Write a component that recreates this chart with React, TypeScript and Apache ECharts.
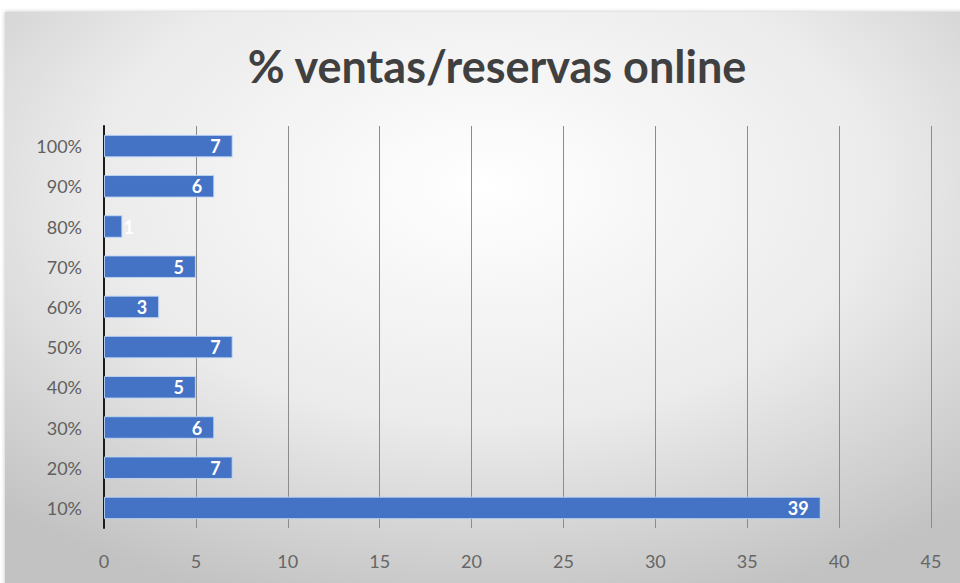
import React, { useEffect, useRef } from "react";
import * as echarts from "echarts";

const categories = ["10%", "20%", "30%", "40%", "50%", "60%", "70%", "80%", "90%", "100%"];
const values = [39, 7, 6, 5, 7, 3, 5, 1, 6, 7];
const titleText = "% ventas/reservas online";

export default function App() {
  const ref = useRef<HTMLDivElement>(null);
  useEffect(() => {
    if (!ref.current) return;
    const chart = echarts.init(ref.current, null, { renderer: "svg" });
    chart.setOption({
      animation: false,
      backgroundColor: "#ffffff",
      graphic: [
        {
          type: "rect",
          z: -10,
          silent: true,
          shape: { x: 5, y: 12, width: 960, height: 580 },
          style: {
            fill: new echarts.graphic.RadialGradient(0.5, 0.3, 0.75, [
              { offset: 0, color: "#ffffff" },
              { offset: 0.55, color: "#ebebeb" },
              { offset: 1, color: "#c2c2c2" },
            ]),
            shadowBlur: 4,
            shadowColor: "rgba(0,0,0,0.25)",
          },
        },
      ],
      title: {
        text: titleText,
        left: 492,
        top: 38,
        textAlign: "center",
        textStyle: {
          fontFamily: "Lato",
          fontWeight: "bold",
          fontSize: 45,
          color: "#404040",
        },
      },
      grid: { left: 104, right: 29, top: 126, bottom: 55, containLabel: false },
      xAxis: {
        type: "value",
        min: 0,
        max: 45,
        interval: 5,
        axisLine: { show: false },
        axisTick: { show: false },
        splitLine: { show: true, lineStyle: { color: "#8c8c8c", width: 1 } },
        axisLabel: {
          color: "#666666",
          fontFamily: "Lato",
          fontSize: 18,
          margin: 24,
        },
      },
      yAxis: {
        type: "category",
        data: categories,
        axisLine: { show: true, lineStyle: { color: "#1a1a1a", width: 2 } },
        axisTick: { show: false },
        axisLabel: {
          color: "#606060",
          fontFamily: "Lato",
          fontSize: 18,
          margin: 22,
        },
      },
      series: [
        {
          type: "bar",
          data: values.map((v) =>
            v < 2
              ? { value: v, label: { position: "right", distance: 1 } }
              : v
          ),
          barWidth: "56%",
          itemStyle: {
            color: "#4472c4",
            borderColor: "rgba(190,215,245,0.9)",
            borderWidth: 1,
          },
          label: {
            show: true,
            position: "insideRight",
            distance: 12,
            color: "#ffffff",
            fontFamily: "Lato",
            fontWeight: "bold",
            fontSize: 18,
          },
        },
      ],
    });
    return () => chart.dispose();
  }, []);
  return (
    <div
      ref={ref}
      style={{ position: "fixed", left: 0, top: 0, width: 960, height: 583 }}
    />
  );
}
